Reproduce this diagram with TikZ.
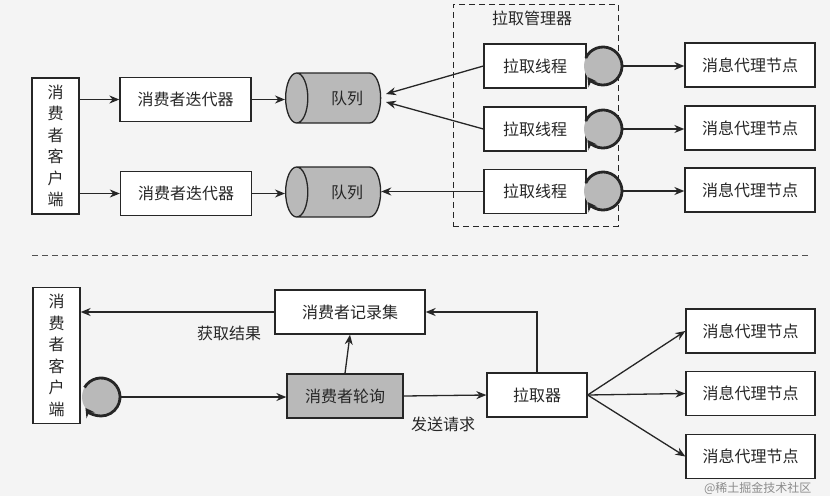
\documentclass[tikz,border=0pt]{standalone}
\usepackage{fontspec}
\setmainfont{Noto Sans CJK SC}
\usetikzlibrary{shapes.geometric,arrows.meta}
\definecolor{ink}{HTML}{262626}
\definecolor{shade}{HTML}{B9B9B9}
\definecolor{paper}{HTML}{F4F4F4}
\begin{document}
\begin{tikzpicture}[x=1pt,y=-1pt,
  txt/.style={font=\fontsize{16}{18}\selectfont, text=ink},
  box/.style={draw=ink, line width=1.3pt, fill=white, minimum width=#1, minimum height=44pt, inner sep=0pt, txt},
  box/.default=100pt,
  client/.style={draw=ink, line width=1.3pt, fill=white, minimum width=47pt, minimum height=136pt, inner sep=0pt, align=center, font=\fontsize{16}{21.5}\selectfont, text=ink},
  queue/.style={cylinder, shape border rotate=180, draw=ink, line width=1.3pt, fill=shade, minimum width=50pt, minimum height=95pt, aspect=1.5, inner sep=0pt, txt},
  loopc/.style={circle, fill=shade, minimum size=38pt, inner sep=0pt},
  loopline/.style={line width=2.8pt, draw=ink, -{Stealth[length=9pt,width=10pt]}},
  arr/.style={line width=1.3pt, draw=ink, -{Stealth[length=10pt,width=8pt]}},
  sep/.style={line width=1pt, draw=ink!80, dash pattern=on 6pt off 4pt}
]
\useasboundingbox (0,0) rectangle (830,496);
\fill[paper] (0,0) rectangle (830,496);

% ---------- top part ----------
\node[draw=ink, line width=1pt, dash pattern=on 6pt off 4pt, minimum width=165pt, minimum height=222pt, inner sep=0pt] (mgr) at (535.5,115) {};
\node[txt] (mgrlabel) at (532,18) {拉取管理器};

\node[client] (c1) at (55.5,146) {消\\费\\者\\客\\户\\端};
\node[box=131pt] (it1) at (185.5,99.5) {消费者迭代器};
\node[box=131pt] (it2) at (186,193.5) {消费者迭代器};
\node[queue] (q1) at (339,98) {\hspace{16pt}队列};
\node[queue] (q2) at (339,192) {\hspace{16pt}队列};

\node[box=102pt] (t1) at (535,66) {拉取线程};
\node[box=102pt] (t2) at (535,129) {拉取线程};
\node[box=102pt] (t3) at (535,191.5) {拉取线程};

\node[loopc] (l1) at (603,66) {};
\node[loopc] (l2) at (603,129) {};
\node[loopc] (l3) at (603,191) {};
\foreach \n in {l1,l2,l3}{
  \draw[loopline] (\n) ++(-155:19) arc[start angle=-155, end angle=145, radius=19];
}

\node[box=130pt] (b1) at (750,65) {消息代理节点};
\node[box=130pt] (b2) at (750,128) {消息代理节点};
\node[box=130pt] (b3) at (750,190) {消息代理节点};

\draw[arr] (c1.east |- it1.west) -- (it1.west);
\draw[arr] (c1.east |- it2.west) -- (it2.west);
\draw[arr] (it1.east) -- (it1.east -| q1.west);
\draw[arr] (it2.east) -- (it2.east -| q2.west);

\coordinate (q1a) at (386,94);
\coordinate (q1b) at (386,102);
\draw[arr] (t1.west) -- (q1a);
\draw[arr] (t2.west) -- (q1b);
\draw[arr] (t3.west) -- (t3.west -| q2.east);

\draw[arr] (l1.east) -- (l1.east -| b1.west);
\draw[arr] (l2.east) -- (l2.east -| b2.west);
\draw[arr] (l3.east) -- (l3.east -| b3.west);

% ---------- separator ----------
\coordinate (sepL) at (32,255);
\coordinate (sepR) at (810,255);
\draw[sep] (sepL) -- (sepR);

% ---------- bottom part ----------
\node[client] (c2) at (56.5,355.5) {消\\费\\者\\客\\户\\端};
\node[box=150pt] (rec) at (350,312) {消费者记录集};
\node[box=116pt, fill=shade] (poll) at (345,396) {消费者轮询};
\node[box=100pt] (fet) at (537,395) {拉取器};

\node[box=129pt] (b4) at (750.5,331) {消息代理节点};
\node[box=129pt] (b5) at (750.5,393.5) {消息代理节点};
\node[box=129pt] (b6) at (750.5,456.5) {消息代理节点};

\node[loopc] (l4) at (101,397) {};
\draw[loopline] (l4) ++(-150:19) arc[start angle=-150, end angle=145, radius=19];

\node[txt] (getres) at (229,333) {获取结果};
\node[txt] (sendreq) at (443,424) {发送请求};

\draw[arr] (rec.west) -- (rec.west -| c2.east);
\draw[arr] (poll.north) -- (rec.south);
\draw[arr] (l4.east) -- (l4.east -| poll.west);
\draw[arr] (poll.east) -- (fet.west);
\draw[arr] (fet.north) |- (rec.east);
\draw[arr] (fet.east) -- (b4.west);
\draw[arr] (fet.east) -- (b5.west);
\draw[arr] (fet.east) -- (b6.west);

\node[font=\fontsize{12}{12}\selectfont, text=black!45, anchor=east] (wm) at (815,488) {@稀土掘金技术社区};
\end{tikzpicture}
\end{document}
